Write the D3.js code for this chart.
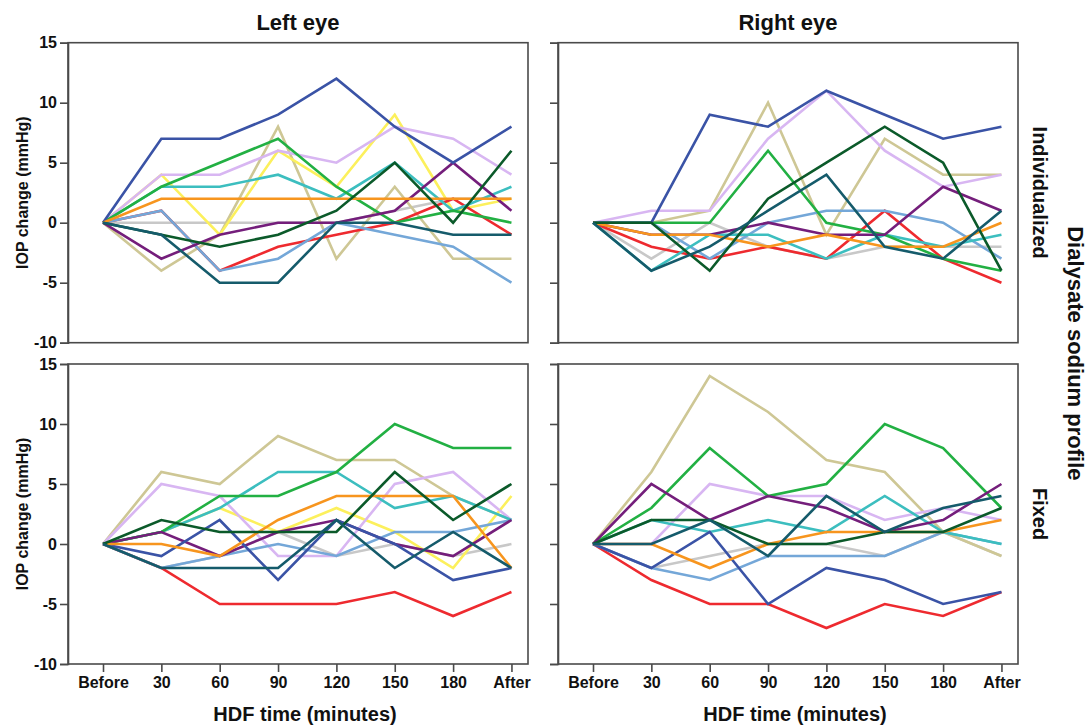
<!DOCTYPE html>
<html>
<head>
<meta charset="utf-8">
<script src="https://cdn.jsdelivr.net/npm/d3@7"></script>
<style>
  html, body { margin: 0; padding: 0; background: #fff; }
  svg { display: block; font-family: "Liberation Sans", Arial, sans-serif; }
</style>
</head>
<body>
<svg id="chart" width="1091" height="727"></svg>
<script>
// ---------------- DATA ----------------
const timepoints = ["Before", "30", "60", "90", "120", "150", "180", "After"];
const yTickValues = [-10, -5, 0, 5, 10, 15];
const eyes = ["Left eye", "Right eye"];
const profiles = ["Individualized", "Fixed"];
// one entry per patient (series), same order in every panel
const patients = ["blue", "green", "lavender", "yellow", "khaki", "cyan", "orange",
                  "purple", "darkgreen", "darkteal", "red", "lightblue", "gray"];

// Individualized, left eye
const indivLeft = [
  [0, 7, 7, 9, 12, 8, 5, 8],
  [0, 3, 5, 7, 3, 0, 1, 0],
  [0, 4, 4, 6, 5, 8, 7, 4],
  [0, 4, -1, 6, 3, 9, 1, 2],
  [0, -4, -1, 8, -3, 3, -3, -3],
  [0, 3, 3, 4, 2, 5, 1, 3],
  [0, 2, 2, 2, 2, 2, 2, 2],
  [0, -3, -1, 0, 0, 1, 5, 1],
  [0, -1, -2, -1, 1, 5, 0, 6],
  [0, -1, -5, -5, 0, 0, -1, -1],
  [0, 1, -4, -2, -1, 0, 2, -1],
  [0, 1, -4, -3, 0, -1, -2, -5],
  [0, 0, 0, 0, 0, 1, 2, 2]
];
// Individualized, right eye
const indivRight = [
  [0, 0, 9, 8, 11, 9, 7, 8],
  [0, 0, 0, 6, 0, -1, -3, -4],
  [0, 1, 1, 7, 11, 6, 3, 4],
  [null, null, null, null, null, null, null, null],
  [0, 0, 1, 10, -1, 7, 4, 4],
  [0, -4, -1, -1, -3, -1, -2, -1],
  [0, -1, -1, -2, -1, -2, -2, 0],
  [0, -1, -1, 0, -1, -1, 3, 1],
  [0, 0, -4, 2, 5, 8, 5, -4],
  [0, -4, -2, 1, 4, -2, -3, 1],
  [0, -2, -3, -2, -3, 1, -3, -5],
  [0, 0, -3, 0, 1, 1, 0, -3],
  [0, -3, 0, -2, -3, -2, -2, -2]
];
// Fixed, left eye
const fixedLeft = [
  [0, -1, 2, -3, 2, 0, -3, -2],
  [0, 1, 4, 4, 6, 10, 8, 8],
  [0, 5, 4, -1, -1, 5, 6, 2],
  [0, 1, 3, 1, 3, 1, -2, 4],
  [0, 6, 5, 9, 7, 7, 4, 2],
  [0, 1, 3, 6, 6, 3, 4, 2],
  [0, 0, -1, 2, 4, 4, 4, -2],
  [0, 1, -1, 1, 2, 0, -1, 2],
  [0, 2, 1, 1, 1, 6, 2, 5],
  [0, -2, -2, -2, 2, -2, 1, -2],
  [0, -2, -5, -5, -5, -4, -6, -4],
  [0, -2, -1, 0, -1, 1, 1, 2],
  [0, -2, -1, 1, -1, 0, -1, 0]
];
// Fixed, right eye
const fixedRight = [
  [0, -2, 1, -5, -2, -3, -5, -4],
  [0, 3, 8, 4, 5, 10, 8, 3],
  [0, 0, 5, 4, 4, 2, 3, 2],
  [null, null, null, null, null, null, null, null],
  [0, 6, 14, 11, 7, 6, 1, -1],
  [0, 2, 1, 2, 1, 4, 1, 0],
  [0, 0, -2, 0, 1, 1, 1, 2],
  [0, 5, 2, 4, 3, 1, 2, 5],
  [0, 2, 2, 0, 0, 1, 1, 3],
  [0, 0, 2, -1, 4, 1, 3, 4],
  [0, -3, -5, -5, -7, -5, -6, -4],
  [0, -2, -3, -1, -1, -1, 1, 0],
  [0, -2, -1, 0, 0, -1, 1, -1]
];

// ---------------- STYLE ----------------
const colors = {
  blue: "#3A53A6", green: "#22B043", lavender: "#D8B6F2", yellow: "#FCF05C",
  khaki: "#CEC795", cyan: "#3CBEBF", orange: "#F7951E", purple: "#741E7B",
  darkgreen: "#0B5A2A", darkteal: "#155B6B", red: "#EE2A2F", lightblue: "#74A7D8",
  gray: "#C8C8C8"
};
const drawOrder = ["gray", "khaki", "yellow", "lavender", "red", "lightblue", "cyan",
                   "green", "purple", "blue", "orange", "darkgreen", "darkteal"];

const svg = d3.select("#chart");
const panelW = 460;
const panelLefts = [68, 558];
const panelTops = [42.7, 364];
const panelH = 300;

const panels = [
  { row: 0, col: 0, data: indivLeft },
  { row: 0, col: 1, data: indivRight },
  { row: 1, col: 0, data: fixedLeft },
  { row: 1, col: 1, data: fixedRight }
];

panels.forEach(p => {
  const L = panelLefts[p.col], T = panelTops[p.row];
  const x = d3.scalePoint().domain(timepoints).range([L + 35, L + 35 + 7 * 58.35]);
  const y = d3.scaleLinear().domain([-10, 15]).range([T + panelH, T]);
  const g = svg.append("g");

  // frame
  g.append("rect").attr("x", L).attr("y", T).attr("width", panelW).attr("height", panelH)
    .attr("fill", "none").attr("stroke", "#4a4a4a").attr("stroke-width", 1.6);

  // y axis
  const yAxis = d3.axisLeft(y).tickValues(yTickValues).tickSize(8)
    .tickFormat(p.col === 0 ? d => String(d) : () => "");
  const ya = g.append("g").attr("transform", `translate(${L},0)`).call(yAxis);
  ya.select(".domain").attr("stroke", "#4a4a4a").attr("stroke-width", 1.6);
  ya.selectAll(".tick line").attr("stroke", "#4a4a4a").attr("stroke-width", 1.6);
  ya.selectAll(".tick text").attr("x", -11).attr("font-size", 16).attr("font-weight", "bold")
    .attr("fill", "#111").attr("font-family", "Liberation Sans, Arial, sans-serif");

  // x axis (bottom row only)
  if (p.row === 1) {
    const xAxis = d3.axisBottom(x).tickSize(8);
    const xa = g.append("g").attr("transform", `translate(0,${T + panelH})`).call(xAxis);
    xa.select(".domain").remove();
    xa.selectAll(".tick line").attr("stroke", "#4a4a4a").attr("stroke-width", 1.6);
    xa.selectAll(".tick text").attr("y", 13).attr("font-size", 16).attr("font-weight", "bold")
      .attr("fill", "#111").attr("font-family", "Liberation Sans, Arial, sans-serif");
  }

  // lines
  const line = d3.line()
    .defined(d => d.v !== null)
    .x(d => x(d.t)).y(d => y(d.v));
  drawOrder.forEach(name => {
    const idx = patients.indexOf(name);
    const vals = p.data[idx];
    const pts = vals.map((v, i) => ({ t: timepoints[i], v }));
    if (pts.every(d => d.v === null)) return;
    g.append("path").datum(pts).attr("d", line)
      .attr("fill", "none").attr("stroke", colors[name]).attr("stroke-width", 2.6)
      .attr("stroke-linejoin", "miter");
  });
});

// column titles and x axis titles
eyes.forEach((e, i) => {
  svg.append("text").attr("x", panelLefts[i] + panelW / 2).attr("y", 30)
    .attr("text-anchor", "middle").attr("font-size", 22).attr("font-weight", "bold")
    .attr("fill", "#111").text(e);
  svg.append("text").attr("x", panelLefts[i] + panelW / 2 + 7).attr("y", 721)
    .attr("text-anchor", "middle").attr("font-size", 20).attr("font-weight", "bold")
    .attr("fill", "#111").text("HDF time (minutes)");
});

// y axis titles and row strip labels
profiles.forEach((pr, r) => {
  const cy = panelTops[r] + panelH / 2;
  svg.append("text").attr("transform", `translate(28,${cy}) rotate(-90)`)
    .attr("text-anchor", "middle").attr("font-size", 16).attr("font-weight", "bold")
    .attr("fill", "#111").text("IOP change (mmHg)");
  svg.append("text").attr("transform", `translate(1033,${cy}) rotate(90)`)
    .attr("text-anchor", "middle").attr("font-size", 20).attr("font-weight", "bold")
    .attr("fill", "#111").text(pr);
});
svg.append("text").attr("transform", `translate(1068,${(panelTops[0] + panelTops[1] + panelH) / 2}) rotate(90)`)
  .attr("text-anchor", "middle").attr("font-size", 22).attr("font-weight", "bold")
  .attr("fill", "#111").text("Dialysate sodium profile");
</script>
</body>
</html>
